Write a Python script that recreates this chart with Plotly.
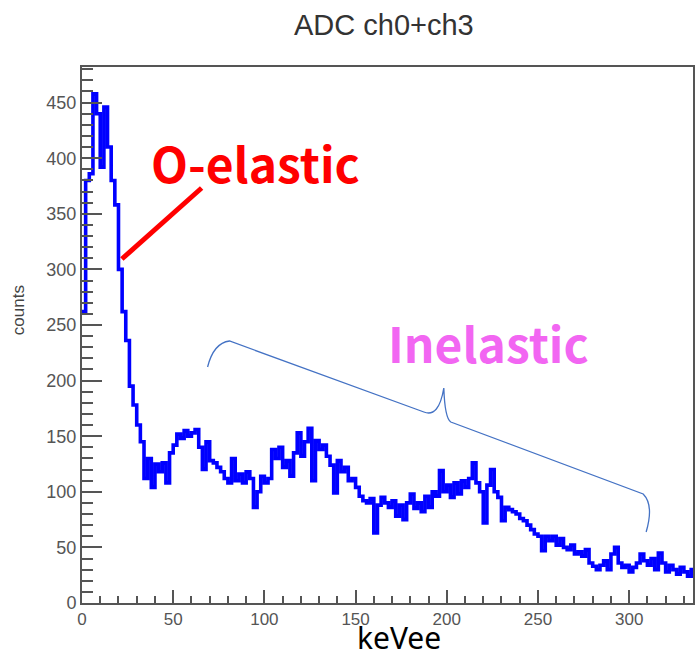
import numpy as np
import plotly.graph_objects as go

# ---------------- data ----------------
BIN_WIDTH = 2.0  # keVee
counts = [
    262, 380, 386, 458, 440, 392, 446, 410, 380, 358,   # 0-20
    300, 262, 236, 195, 178, 160, 145, 112, 130, 104,   # 20-40
    125, 118, 126, 108, 135, 142, 152, 148, 155, 150,   # 40-60
    153, 156, 140, 120, 145, 128, 126, 122, 118, 112,   # 60-80
    108, 130, 110, 116, 108, 118, 112, 86, 100, 114,    # 80-100
    108, 112, 138, 130, 140, 122, 128, 114, 135, 153,   # 100-120
    132, 145, 157, 110, 146, 138, 142, 132, 124, 99,    # 120-140
    128, 118, 122, 110, 112, 104, 96, 92, 90, 94,       # 140-160
    63, 88, 95, 90, 86, 92, 78, 88, 75, 90,             # 160-180
    98, 85, 90, 82, 96, 86, 100, 96, 119, 100,          # 180-200
    106, 95, 108, 98, 110, 104, 112, 126, 108, 100,     # 200-220
    72, 106, 120, 100, 95, 74, 86, 84, 82, 80,          # 220-240
    76, 74, 70, 66, 62, 60, 47, 60, 56, 60,             # 240-260
    52, 58, 50, 48, 52, 44, 46, 42, 48, 36,             # 260-280
    33, 30, 34, 38, 30, 44, 50, 36, 32, 34,             # 280-300
    28, 32, 36, 44, 38, 34, 40, 30, 45, 36,             # 300-320
    28, 34, 30, 26, 32, 28, 24, 30,                     # 320-336
]
x_ticks = [0, 50, 100, 150, 200, 250, 300]
y_ticks = [0, 50, 100, 150, 200, 250, 300, 350, 400, 450]
title_text = "ADC ch0+ch3"
x_label = "keVee"
y_label = "counts"

# ---------------- geometry ----------------
W, H = 698, 659
L, R, T, B = 82, 3, 67, 56
PW, PH = W - L - R, H - T - B


def px(xp):
    return (xp - L) / PW


def py(yp):
    return (H - B - yp) / PH


edges = np.arange(len(counts) + 1) * BIN_WIDTH
xs = list(edges)
ys = list(counts) + [counts[-1]]

fig = go.Figure()
fig.add_trace(go.Scatter(
    x=xs, y=ys, mode="lines", line_shape="hv",
    line=dict(color="#0000FF", width=3.6), hoverinfo="skip", showlegend=False,
))

axis_common = dict(
    showline=True, mirror=True, linecolor="#555555", linewidth=2,
    ticks="inside", tickcolor="#555555", tickwidth=1.5,
    showgrid=False, zeroline=False,
)
fig.update_xaxes(
    range=[0, 335], tickvals=x_ticks, ticklen=13,
    tickfont=dict(family="Liberation Sans", size=17, color="#555555"),
    minor=dict(ticks="inside", ticklen=7, dtick=10, tick0=0, tickcolor="#555555", tickwidth=1.5),
    **axis_common,
)
fig.update_yaxes(
    range=[0, 482], tickvals=y_ticks, ticklen=20,
    tickfont=dict(family="Liberation Sans", size=18, color="#555555"),
    minor=dict(ticks="inside", ticklen=11, dtick=10, tick0=0, tickcolor="#555555", tickwidth=1.5),
    **axis_common,
)

annotations = [
    dict(text=title_text, x=px(385), y=py(25), xref="paper", yref="paper",
         showarrow=False, xanchor="center", yanchor="middle",
         font=dict(family="Liberation Sans", size=29, color="#333333")),
    dict(text=y_label, x=px(18), y=py(310), xref="paper", yref="paper",
         showarrow=False, xanchor="center", yanchor="middle", textangle=-90,
         font=dict(family="Liberation Sans", size=17, color="#444444")),
    dict(text=x_label, x=px(400), y=py(659), xref="paper", yref="paper",
         showarrow=False, xanchor="center", yanchor="bottom", borderpad=0,
         font=dict(family="Noto Sans", size=30, color="#000000")),
    dict(text="<b>O-elastic</b>", x=px(256), y=py(162), xref="paper", yref="paper",
         showarrow=False, xanchor="center", yanchor="middle",
         font=dict(family="Noto Sans CJK JP", size=48, color="#FF0000")),
    dict(text="<b>Inelastic</b>", x=px(490), y=py(342), xref="paper", yref="paper",
         showarrow=False, xanchor="center", yanchor="middle",
         font=dict(family="Noto Sans CJK JP", size=48, color="#F266F2")),
]


def P(a, b):
    return f"{px(a):.5f},{py(b):.5f}"


brace = (
    f"M {P(208,367)} Q {P(214,343)} {P(230,341)} L {P(425,412)} "
    f"Q {P(440,418)} {P(445,388)} Q {P(446,418)} {P(452,422)} "
    f"L {P(645,494)} Q {P(656,505)} {P(648,532)}"
)
shapes = [
    dict(type="line", xref="paper", yref="paper",
         x0=px(122), y0=py(259), x1=px(202), y1=py(188),
         line=dict(color="#FF0000", width=5)),
    dict(type="path", xref="paper", yref="paper", path=brace,
         line=dict(color="#4472C4", width=1.3)),
]

fig.update_layout(
    width=W, height=H, autosize=False,
    margin=dict(l=L, r=R, t=T, b=B, pad=0),
    paper_bgcolor="white", plot_bgcolor="white",
    annotations=annotations, shapes=shapes,
)

fig.write_html(
    "out.html",
    config={"displayModeBar": False},
    post_script="document.body.style.margin='0';document.body.style.overflow='hidden';",
)
